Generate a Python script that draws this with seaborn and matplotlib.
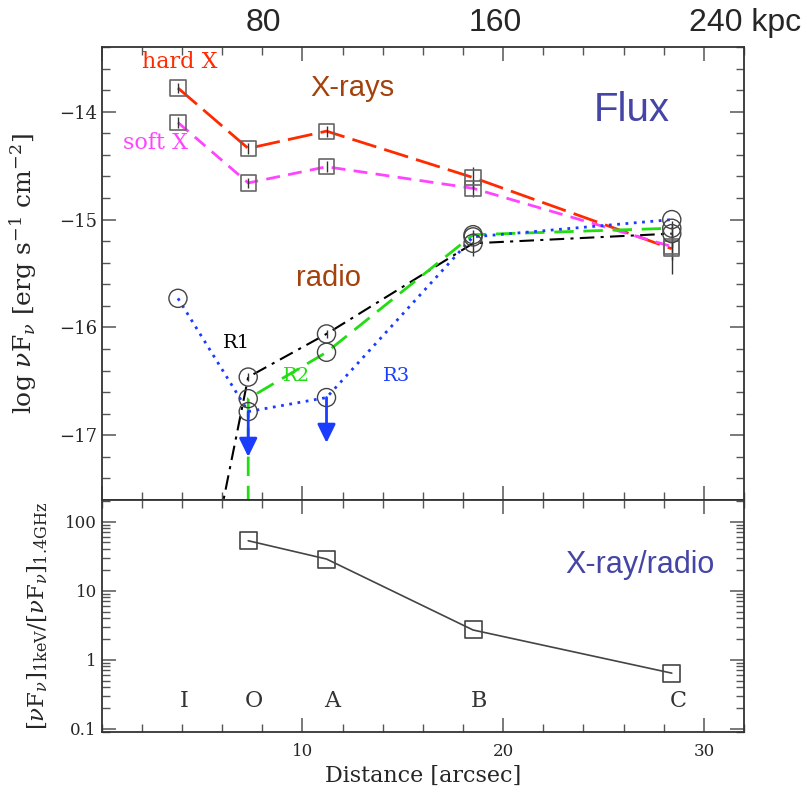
import numpy as np
import pandas as pd
import matplotlib
matplotlib.use('Agg')
import matplotlib.pyplot as plt
import matplotlib.ticker as mticker
import seaborn as sns

# 数据：各节点位置 (arcsec)
knots = ['I', 'O', 'A', 'B', 'C']
dist = [3.8, 7.3, 11.2, 18.5, 28.4]

# X 射线流量 log(nu F_nu)
hard_x = [-13.78, -14.34, -14.18, -14.61, -15.27]
soft_x = [-14.10, -14.66, -14.51, -14.71, -15.25]
hard_err = [0.05, 0.05, 0.05, 0.10, 0.23]
soft_err = [0.05, 0.05, 0.05, 0.08, 0.12]

# 射电流量 R1 / R2 / R3
r1_x = [3.8, 7.3, 11.2, 18.5, 28.4]
r1 = [-19.7, -16.46, -16.06, -15.22, -15.13]
r2_x = [7.3, 7.3, 11.2, 18.5, 28.4]
r2 = [-19.0, -16.66, -16.23, -15.14, -15.08]
r3_x = [3.8, 7.3, 11.2, 18.5, 28.4]
r3 = [-15.73, -16.78, -16.65, -15.16, -15.00]
radio_err = [0.0, 0.04, 0.04, 0.12, 0.12]

# R3 上限
ul_x = [7.3, 11.2]
ul_y = [-16.78, -16.65]

# X-ray / radio 比值
ratio_x = [7.3, 11.2, 18.5, 28.4]
ratio = [53, 28.8, 2.7, 0.64]

# 顶部 kpc 标尺
kpc_labels = ['80', '160', '240 kpc']

sns.set_style('ticks')
plt.rcParams['font.family'] = ['DejaVu Serif']
plt.rcParams['mathtext.fontset'] = 'dejavuserif'
plt.rcParams['axes.unicode_minus'] = True

RED = '#ff2a00'
PINK = '#ff44ff'
GREEN = '#22dd11'
BLUE = '#1a3cff'
BROWN = '#a3420d'
PURPLE = '#4545a5'
GRAY = '#555555'

fig = plt.figure(figsize=(8.07, 7.97), dpi=100)
ax1 = fig.add_axes([0.126, 0.3726, 0.796, 0.5684])
ax2 = fig.add_axes([0.126, 0.0816, 0.796, 0.291])

# ---- 上图：流量 ----
sns.lineplot(x=dist, y=hard_x, color=RED, lw=2, linestyle=(0, (9, 3)),
             estimator=None, sort=False, ax=ax1)
sns.lineplot(x=dist, y=soft_x, color=PINK, lw=2, linestyle=(0, (5, 3)),
             estimator=None, sort=False, ax=ax1)
sns.lineplot(x=r1_x, y=r1, color='black', lw=1.5, linestyle=(0, (7, 3, 1.5, 3)),
             estimator=None, sort=False, ax=ax1)
sns.lineplot(x=r2_x, y=r2, color=GREEN, lw=2, linestyle=(0, (7, 3.5)),
             estimator=None, sort=False, ax=ax1)
sns.lineplot(x=r3_x, y=r3, color=BLUE, lw=2, linestyle=(0, (1, 2)),
             estimator=None, sort=False, ax=ax1)

ax1.errorbar(dist, hard_x, yerr=hard_err, fmt='none', ecolor='#333333', elinewidth=1)
ax1.errorbar(dist, soft_x, yerr=soft_err, fmt='none', ecolor='#333333', elinewidth=1)
ax1.errorbar(r1_x[1:], r1[1:], yerr=radio_err[1:], fmt='none', ecolor='#333333', elinewidth=1)

sns.scatterplot(x=dist, y=hard_x, marker='s', s=120, facecolors='none',
                edgecolor='#666666', linewidth=1.2, ax=ax1, zorder=5)
sns.scatterplot(x=dist, y=soft_x, marker='s', s=120, facecolors='none',
                edgecolor='#666666', linewidth=1.2, ax=ax1, zorder=5)
for xs, ys in [(r1_x, r1), (r2_x, r2), (r3_x, r3)]:
    sns.scatterplot(x=xs, y=ys, marker='o', s=170, facecolors='none',
                    edgecolor='#444444', linewidth=1.0, ax=ax1, zorder=5)

for x0, y0 in zip(ul_x, ul_y):
    ax1.annotate('', xy=(x0, y0 - 0.42), xytext=(x0, y0),
                 arrowprops=dict(arrowstyle='-|>,head_length=0.45,head_width=0.22',
                                 color=BLUE, lw=2, mutation_scale=25,
                                 shrinkA=0, shrinkB=0), zorder=6)

ax1.set_xlim(0, 32)
ax1.set_ylim(-17.6, -13.4)
ax1.xaxis.set_major_locator(mticker.MultipleLocator(10))
ax1.xaxis.set_minor_locator(mticker.MultipleLocator(2))
ax1.yaxis.set_major_locator(mticker.MultipleLocator(1))
ax1.yaxis.set_minor_locator(mticker.MultipleLocator(0.2))
ax1.tick_params(axis='both', which='both', direction='in', top=True, right=True,
                color=GRAY, labelsize=13)
ax1.tick_params(which='major', length=10, width=1.1)
ax1.tick_params(which='minor', length=6, width=1.0)
ax1.tick_params(axis='x', labelbottom=False)
ax1.set_xlabel('')
ax1.set_ylabel(r'log $\nu$F$_\nu$ [erg s$^{-1}$ cm$^{-2}$]', fontsize=18)
ax1.yaxis.set_label_coords(-0.098, 0.5)

ax1.text(3.9, -13.54, 'hard X', color=RED, fontsize=16, ha='center', va='center')
ax1.text(2.7, -14.29, 'soft X', color=PINK, fontsize=16, ha='center', va='center')
ax1.text(6.7, -16.14, 'R1', color='black', fontsize=14, ha='center', va='center')
ax1.text(9.7, -16.45, 'R2', color=GREEN, fontsize=14, ha='center', va='center')
ax1.text(14.7, -16.45, 'R3', color=BLUE, fontsize=14, ha='center', va='center')
ax1.text(12.5, -13.78, 'X-rays', color=BROWN, fontsize=21, ha='center', va='center',
         family='Liberation Sans')
ax1.text(11.3, -15.54, 'radio', color=BROWN, fontsize=21, ha='center', va='center',
         family='Liberation Sans')
ax1.text(26.4, -13.98, 'Flux', color=PURPLE, fontsize=29, ha='center', va='center',
         family='Liberation Sans')

for lab, px in zip(kpc_labels, [263, 495, 689]):
    fig.text(px / 807, 1 - 23 / 797, lab, fontsize=23, family='Liberation Sans',
             ha='left' if 'kpc' in lab else 'center', va='center')

# ---- 下图：比值 ----
sns.lineplot(x=ratio_x, y=ratio, color='#444444', lw=1.2,
             estimator=None, sort=False, ax=ax2)
sns.scatterplot(x=ratio_x, y=ratio, marker='s', s=150, facecolors='none',
                edgecolor='#444444', linewidth=1.2, ax=ax2, zorder=5)
ax2.set_yscale('log')
ax2.set_xlim(0, 32)
ax2.set_ylim(0.09, 206)
ax2.xaxis.set_major_locator(mticker.FixedLocator([10, 20, 30]))
ax2.xaxis.set_minor_locator(mticker.MultipleLocator(2))
ax2.yaxis.set_major_locator(mticker.LogLocator(base=10))
ax2.yaxis.set_minor_locator(mticker.LogLocator(base=10, subs=np.arange(2, 10)))
ax2.yaxis.set_major_formatter(mticker.FuncFormatter(lambda v, p: '%g' % v))
ax2.yaxis.set_minor_formatter(mticker.NullFormatter())
ax2.tick_params(axis='both', which='both', direction='in', top=True, right=True,
                color=GRAY, labelsize=12)
ax2.tick_params(which='major', length=10, width=1.1)
ax2.tick_params(which='minor', length=6, width=1.0)
ax2.tick_params(axis='x', pad=8)
ax2.set_xlabel('Distance [arcsec]', fontsize=16)
ax2.xaxis.set_label_coords(0.5, -0.14)
ax2.set_ylabel(r'[$\nu$F$_\nu$]$_{\rm 1keV}$/[$\nu$F$_\nu$]$_{\rm 1.4GHz}$', fontsize=16.5)
ax2.yaxis.set_label_coords(-0.08, 0.5)

for lab, xv in zip(knots, dist):
    ax2.text(xv + 0.3, 0.25, lab, fontsize=16, ha='center', va='center', color='#333333')
ax2.text(26.8, 23.6, 'X-ray/radio', color=PURPLE, fontsize=22, ha='center', va='center',
         family='Liberation Sans')

for ax in (ax1, ax2):
    for sp in ax.spines.values():
        sp.set_color('#333333')
        sp.set_linewidth(1.3)

plt.savefig('out.png', dpi=100)
